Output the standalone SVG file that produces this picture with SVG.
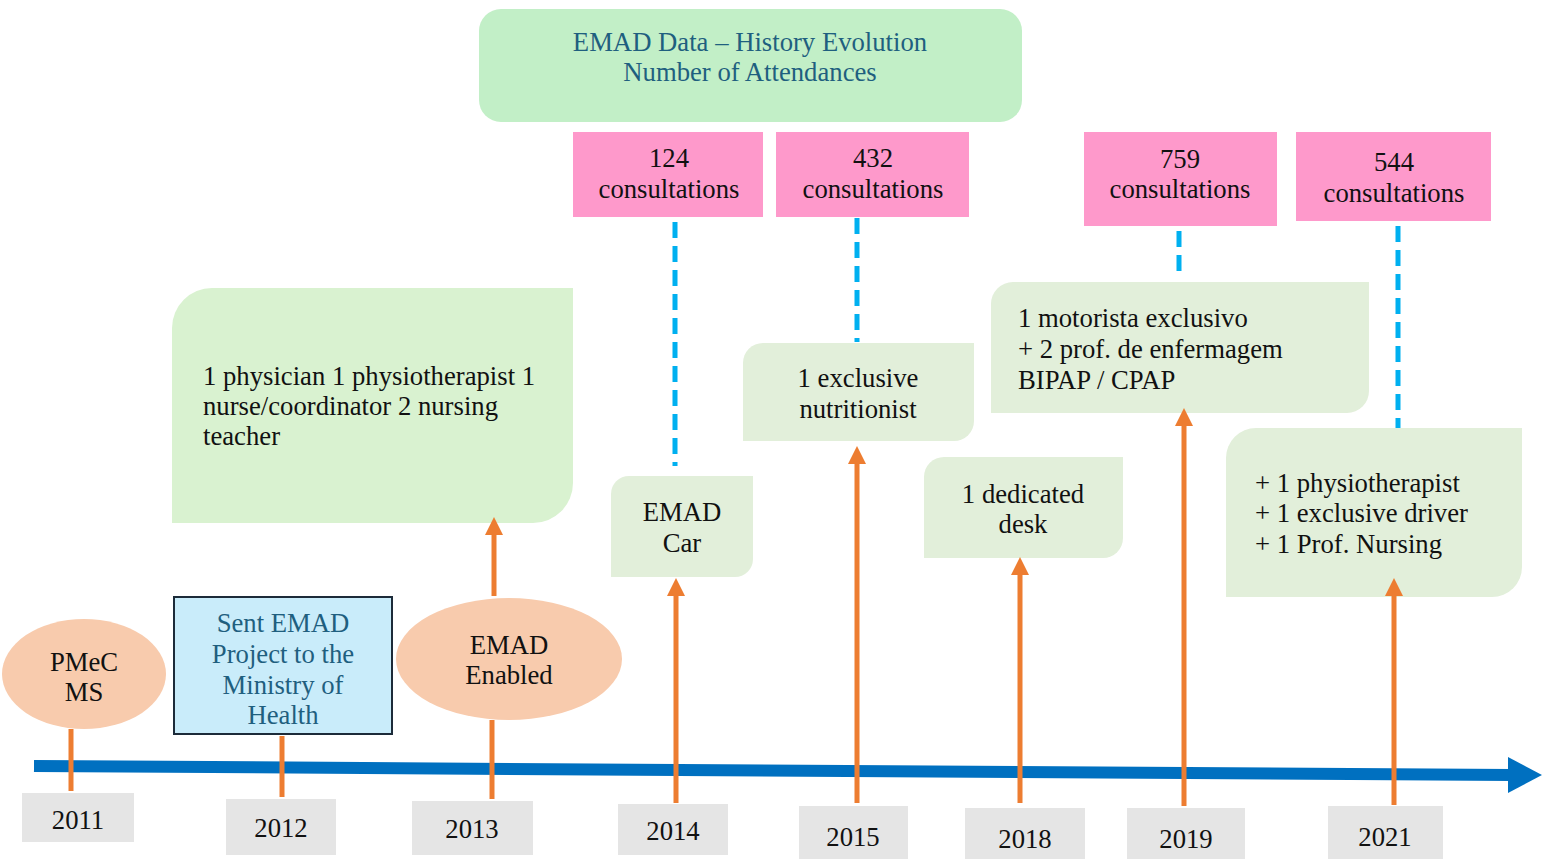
<svg xmlns="http://www.w3.org/2000/svg" width="1542" height="859" viewBox="0 0 1542 859" font-family="'Liberation Serif', 'DejaVu Serif', 'Noto Serif', serif">
<style>
text{font-family:'Liberation Serif','DejaVu Serif','Noto Serif',serif;font-size:26.7px;fill:#111}
.c{text-anchor:middle}
.teal{fill:#1f5f7f}
.pink{fill:#fe99cb}
.note{fill:#e2efda}
.year{fill:#e5e5e5}
.peach{fill:#f8cbad}
.orange{stroke:#ed7d31;stroke-width:5;fill:none}
.dash{stroke:#00b0f0;stroke-width:5;stroke-dasharray:16 8;fill:none}
</style>
<defs>
<marker id="ah" viewBox="0 0 18 18" refX="2" refY="9" markerWidth="18" markerHeight="18" markerUnits="userSpaceOnUse" orient="auto">
<path d="M0,0 L18,9 L0,18 Z" fill="#ed7d31"/>
</marker>
</defs>
<rect width="1542" height="859" fill="#fff"/>

<g id="title">
<rect x="479" y="9" width="543" height="113" rx="22" fill="#c2efc7"/>
<text class="c teal" x="750" y="51">EMAD Data – History Evolution</text>
<text class="c teal" x="750" y="81">Number of Attendances</text>
</g>

<g id="c124"><rect class="pink" x="573" y="132" width="190" height="85"/>
<text class="c" x="669" y="167">124</text><text class="c" x="669" y="198">consultations</text></g>
<g id="c432"><rect class="pink" x="776" y="132" width="193" height="85"/>
<text class="c" x="873" y="167">432</text><text class="c" x="873" y="198">consultations</text></g>
<g id="c759"><rect class="pink" x="1084" y="132" width="193" height="94"/>
<text class="c" x="1180" y="168">759</text><text class="c" x="1180" y="198">consultations</text></g>
<g id="c544"><rect class="pink" x="1296" y="132" width="195" height="89"/>
<text class="c" x="1394" y="171">544</text><text class="c" x="1394" y="202">consultations</text></g>

<g id="team2013">
<path d="M212,288 H573 V483 A40,40 0 0 1 533,523 H172 V328 A40,40 0 0 1 212,288 Z" fill="#d9f2d0"/>
<text x="203" y="385">1 physician 1 physiotherapist 1</text>
<text x="203" y="415">nurse/coordinator 2 nursing</text>
<text x="203" y="445">teacher</text>
</g>

<g id="car2014">
<path class="note" d="M629,476 H753 V559 A18,18 0 0 1 735,577 H611 V494 A18,18 0 0 1 629,476 Z"/>
<text class="c" x="682" y="521">EMAD</text>
<text class="c" x="682" y="552">Car</text>
</g>

<g id="nutri2015">
<path class="note" d="M763,343 H974 V421 A20,20 0 0 1 954,441 H743 V363 A20,20 0 0 1 763,343 Z"/>
<text class="c" x="858" y="387">1 exclusive</text>
<text class="c" x="858" y="418">nutritionist</text>
</g>

<g id="desk2018">
<path class="note" d="M944,457 H1123 V538 A20,20 0 0 1 1103,558 H924 V477 A20,20 0 0 1 944,457 Z"/>
<text class="c" x="1023" y="503">1 dedicated</text>
<text class="c" x="1023" y="533">desk</text>
</g>

<g id="staff2019">
<path class="note" d="M1013,282 H1369 V391 A22,22 0 0 1 1347,413 H991 V304 A22,22 0 0 1 1013,282 Z"/>
<text x="1018" y="327">1 motorista exclusivo</text>
<text x="1018" y="358">+ 2 prof. de enfermagem</text>
<text x="1018" y="389">BIPAP / CPAP</text>
</g>

<g id="staff2021">
<path class="note" d="M1256,428 H1522 V567 A30,30 0 0 1 1492,597 H1226 V458 A30,30 0 0 1 1256,428 Z"/>
<text x="1255" y="492">+ 1 physiotherapist</text>
<text x="1255" y="522">+ 1 exclusive driver</text>
<text x="1255" y="553">+ 1 Prof. Nursing</text>
</g>

<g id="pmec2011">
<ellipse class="peach" cx="84" cy="674" rx="82" ry="55"/>
<text class="c" x="84" y="671">PMeC</text>
<text class="c" x="84" y="701">MS</text>
</g>

<g id="sent2012">
<rect x="174" y="597" width="218" height="137" fill="#c9ecfa" stroke="#1c2b39" stroke-width="2"/>
<text class="c teal" x="283" y="632">Sent EMAD</text>
<text class="c teal" x="283" y="663">Project to the</text>
<text class="c teal" x="283" y="694">Ministry of</text>
<text class="c teal" x="283" y="724">Health</text>
</g>

<g id="enabled2013">
<ellipse class="peach" cx="509" cy="659" rx="113" ry="61"/>
<text class="c" x="509" y="654">EMAD</text>
<text class="c" x="509" y="684">Enabled</text>
</g>

<g id="y2011"><rect class="year" x="22" y="793" width="112" height="49"/><text class="c" x="78" y="829">2011</text></g>
<g id="y2012"><rect class="year" x="226" y="799" width="110" height="56"/><text class="c" x="281" y="837">2012</text></g>
<g id="y2013"><rect class="year" x="412" y="801" width="121" height="54"/><text class="c" x="472" y="838">2013</text></g>
<g id="y2014"><rect class="year" x="618" y="804" width="110" height="51"/><text class="c" x="673" y="840">2014</text></g>
<g id="y2015"><rect class="year" x="799" y="806" width="109" height="53"/><text class="c" x="853" y="846">2015</text></g>
<g id="y2018"><rect class="year" x="965" y="808" width="120" height="51"/><text class="c" x="1025" y="848">2018</text></g>
<g id="y2019"><rect class="year" x="1127" y="808" width="118" height="51"/><text class="c" x="1186" y="848">2019</text></g>
<g id="y2021"><rect class="year" x="1328" y="806" width="115" height="53"/><text class="c" x="1385" y="846">2021</text></g>

<g id="connectors">
<line x1="34" y1="766" x2="1512" y2="775" stroke="#0070c0" stroke-width="12"/>
<polygon points="1508,757 1542,775 1508,793" fill="#0070c0"/>
<line class="dash" x1="675" y1="222" x2="675" y2="466"/>
<line class="dash" x1="857" y1="218" x2="857" y2="342"/>
<line class="dash" x1="1179" y1="231" x2="1179" y2="274"/>
<line class="dash" x1="1398" y1="226" x2="1398" y2="428"/>
<line class="orange" x1="71" y1="729" x2="71" y2="791"/>
<line class="orange" x1="282" y1="736" x2="282" y2="797"/>
<line class="orange" x1="492" y1="720" x2="492" y2="799"/>
<line class="orange" x1="494" y1="596" x2="494" y2="533" marker-end="url(#ah)"/>
<line class="orange" x1="676" y1="803" x2="676" y2="594" marker-end="url(#ah)"/>
<line class="orange" x1="857" y1="803" x2="857" y2="462" marker-end="url(#ah)"/>
<line class="orange" x1="1020" y1="803" x2="1020" y2="573" marker-end="url(#ah)"/>
<line class="orange" x1="1184" y1="806" x2="1184" y2="424" marker-end="url(#ah)"/>
<line class="orange" x1="1394" y1="805" x2="1394" y2="594" marker-end="url(#ah)"/>
</g>
</svg>
